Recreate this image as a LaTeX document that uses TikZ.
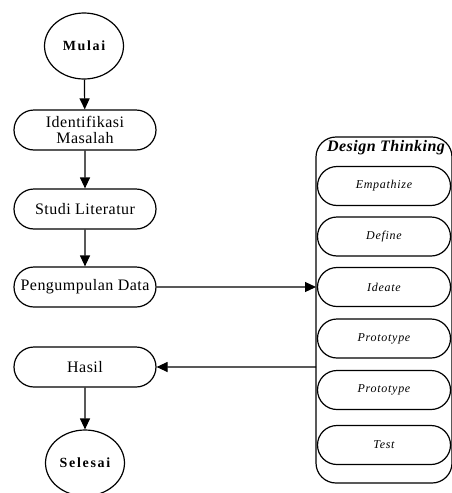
\documentclass[tikz,border=0pt]{standalone}
\usepackage{fontspec}
\setmainfont{Liberation Serif}
\usetikzlibrary{arrows.meta,shapes.geometric,shapes.misc}
\begin{document}
\begin{tikzpicture}[x=1pt,y=-1pt,
  line width=1.2pt,
  term/.style={draw,ellipse,minimum width=79pt,minimum height=66pt,inner sep=0pt,font=\fontsize{14}{16}\selectfont\bfseries\addfontfeature{LetterSpace=12}},
  proc/.style={draw,rounded rectangle,minimum width=144pt,minimum height=40pt,inner sep=1pt,align=center,font=\fontsize{16}{16}\selectfont\addfontfeature{LetterSpace=3}},
  dtbox/.style={draw,rounded rectangle,minimum width=135pt,minimum height=39pt,inner sep=1pt,font=\fontsize{12}{13}\selectfont\itshape\addfontfeature{LetterSpace=6}},
  arr/.style={-{Triangle[length=11pt,width=10pt]}}]
\useasboundingbox (0,0) rectangle (451,493);
\node[term] (mulai) at (84,46) {Mulai};
\node[proc] (ident) at (85,130) {Identifikasi\\Masalah};
\node[proc] (studi) at (85,209) {Studi Literatur};
\node[proc] (data) at (85,287) {Pengumpulan Data};
\node[proc] (hasil) at (85,367) {Hasil};
\node[term] (selesai) at (85,463) {Selesai};
% container
\draw[rounded corners=20pt] (316,137) rectangle (452,483);
\coordinate (cin) at (316,287);
\coordinate (cout) at (316,367);
\node[font=\fontsize{16}{18}\selectfont\bfseries\itshape\addfontfeature{LetterSpace=3}] (dt) at (386,148) {Design Thinking};
\node[dtbox] (emp) at (384,186) {Empathize};
\node[dtbox] (def) at (384,236.5) {Define};
\node[dtbox] (ide) at (384,287) {Ideate};
\node[dtbox] (pro1) at (384,338.5) {Prototype};
\node[dtbox] (pro2) at (384,390) {Prototype};
\node[dtbox] (test) at (384,445) {Test};
% connectors
\draw[arr] (mulai) -- (ident);
\draw[arr] (ident) -- (studi);
\draw[arr] (studi) -- (data);
\draw[arr] (data) -- (cin);
\draw[arr] (cout) -- (hasil);
\draw[arr] (hasil) -- (selesai);
\end{tikzpicture}
\end{document}
